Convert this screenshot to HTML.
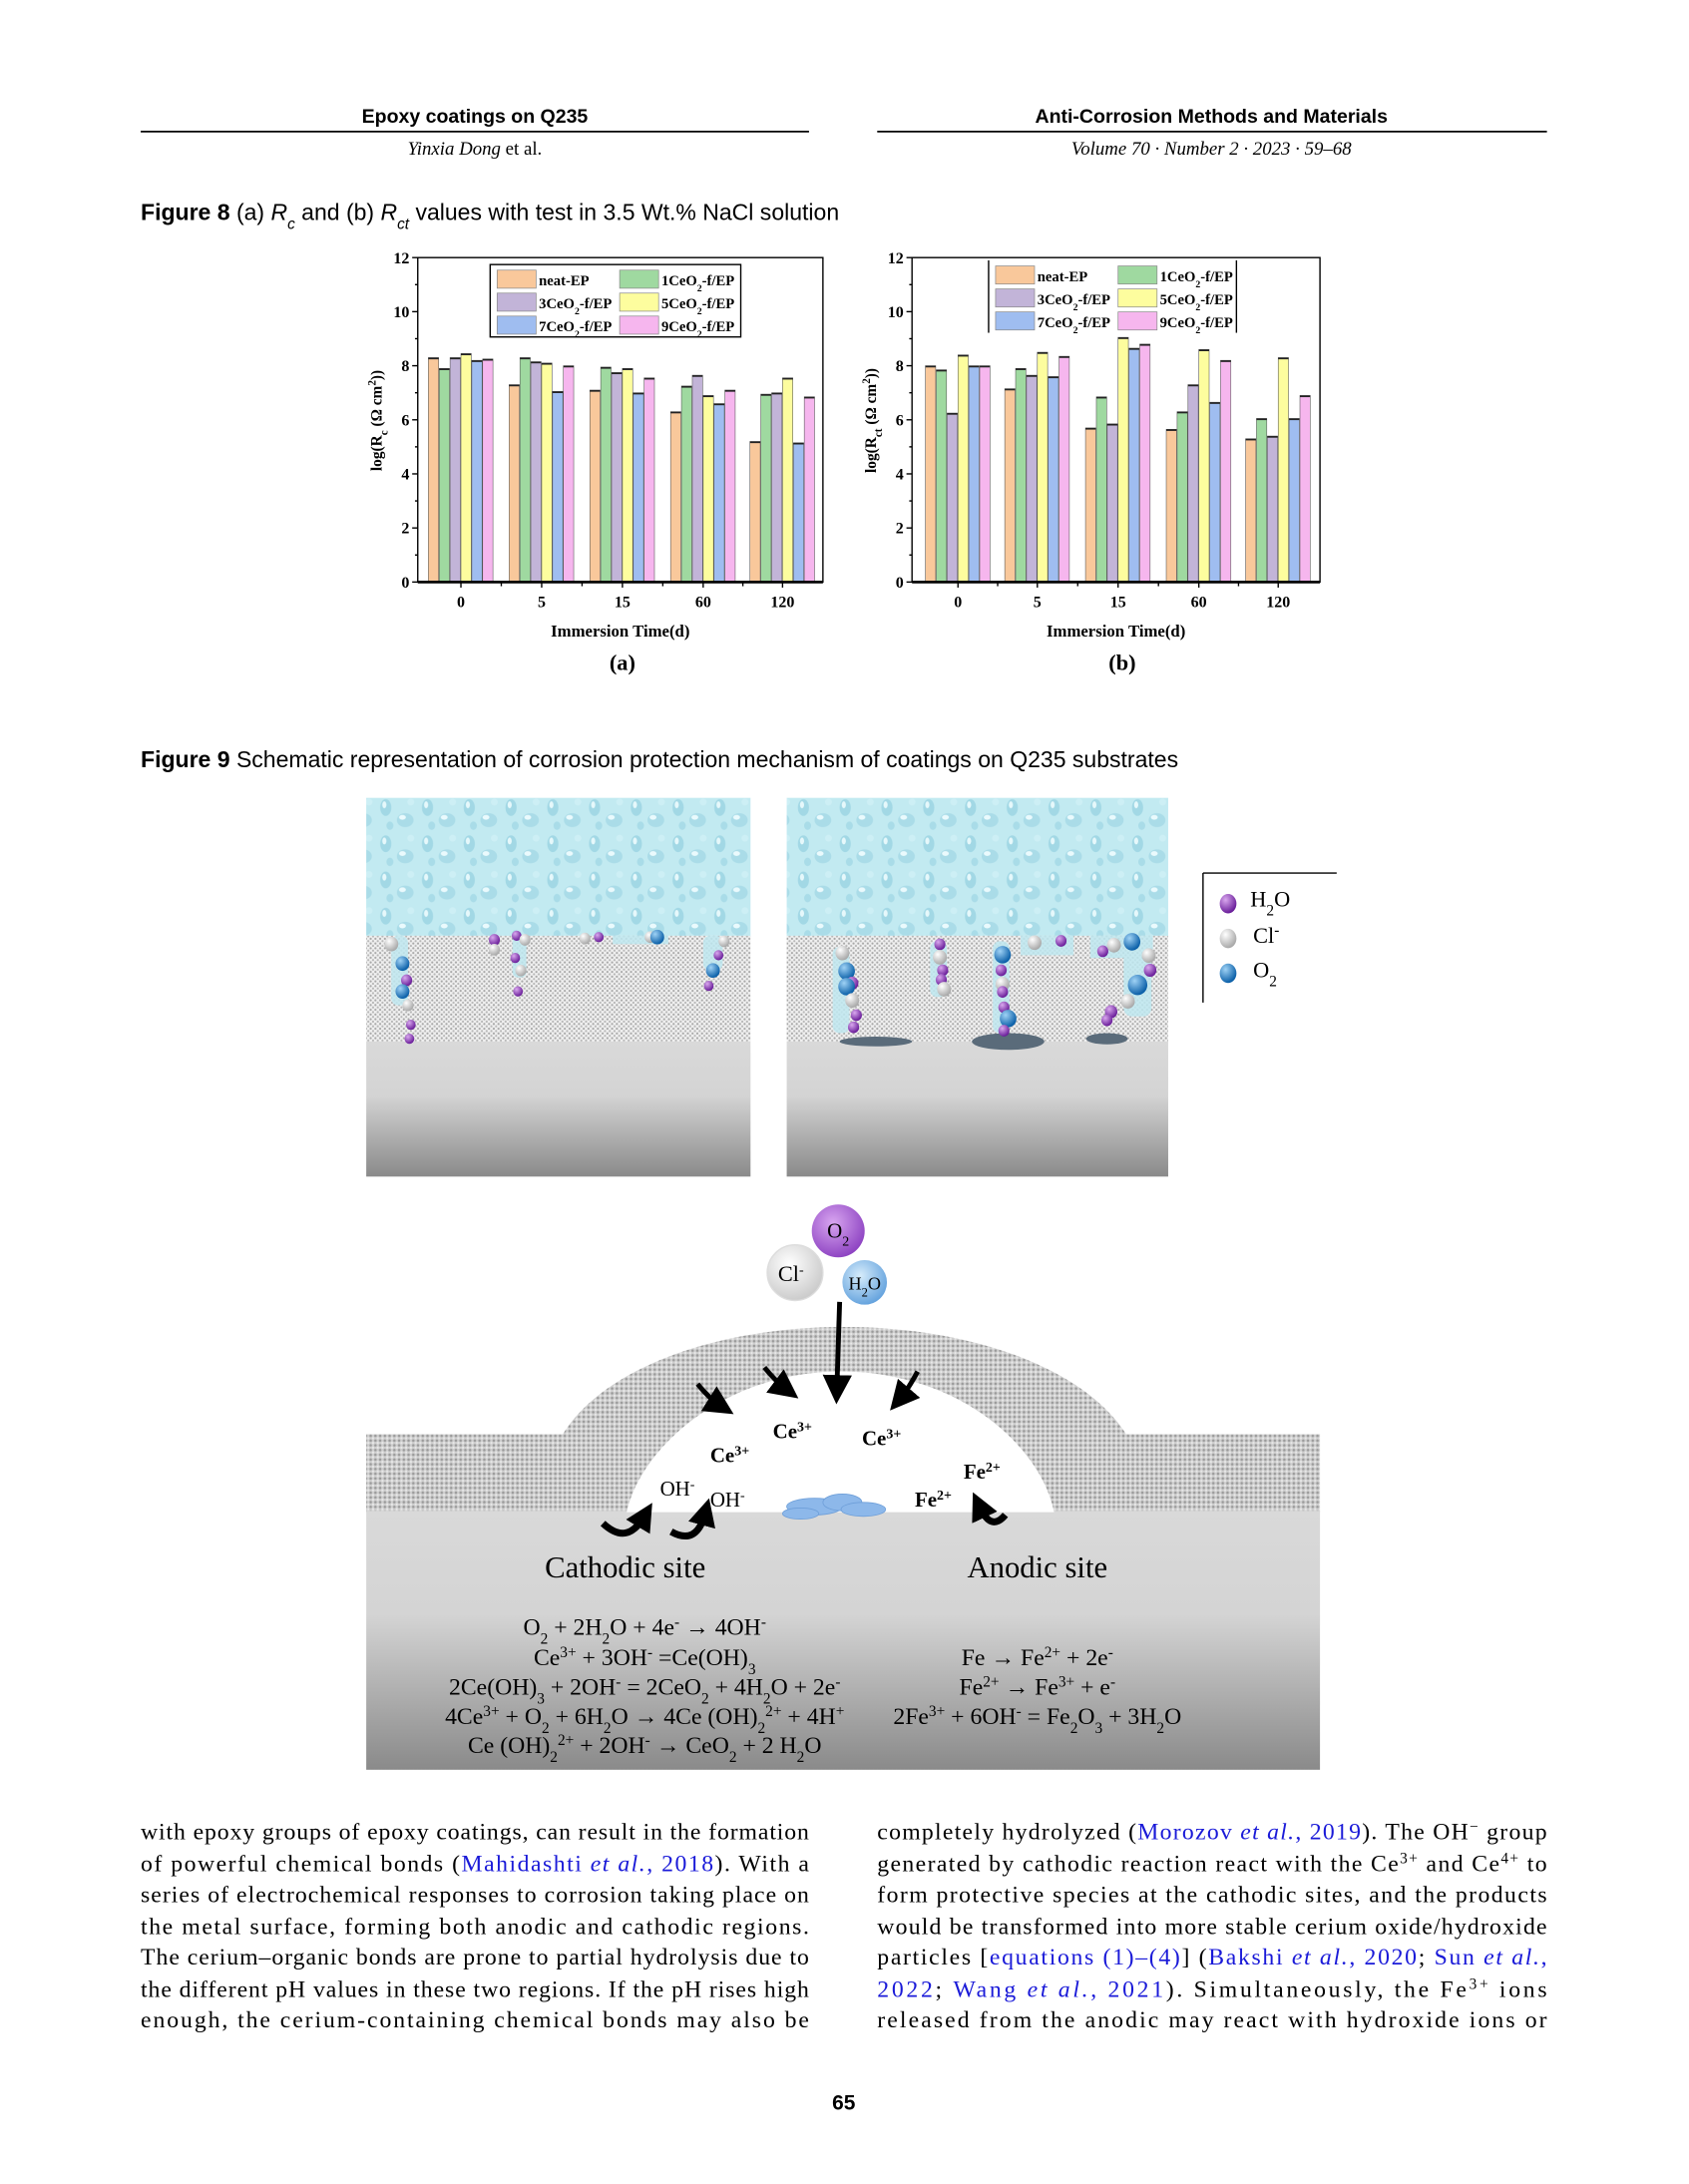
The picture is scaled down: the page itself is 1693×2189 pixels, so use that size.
<!DOCTYPE html>
<html><head><meta charset="utf-8"><style>
html,body{margin:0;padding:0;background:#fff}
svg{display:block}
.s{font-family:"Liberation Sans Narrow","Liberation Sans",sans-serif}
.r{font-family:"Liberation Serif",serif}
.l{fill:#1a1ad8}
</style></head><body>
<svg id="sv" xmlns="http://www.w3.org/2000/svg" width="1693" height="2189" viewBox="0 0 1213 1568.5">
<defs>
<pattern id="dots" width="3.4" height="3.4" patternUnits="userSpaceOnUse">
<rect width="3.4" height="3.4" fill="#f0f0f0"/><circle cx="1" cy="1" r="0.8" fill="#a8a8a8"/><circle cx="2.7" cy="2.7" r="0.8" fill="#b8b8b8"/>
</pattern>
<pattern id="dots2" width="3.4" height="3.4" patternUnits="userSpaceOnUse">
<rect width="3.4" height="3.4" fill="#cfcfcf"/><circle cx="1" cy="1" r="0.9" fill="#9a9a9a"/><circle cx="2.7" cy="2.7" r="0.8" fill="#e8e8e8"/>
</pattern>
<pattern id="water" width="30" height="26" patternUnits="userSpaceOnUse">
<rect width="30" height="26" fill="#c2eaf1"/>
<ellipse cx="7" cy="8" rx="4" ry="6" fill="#a2d8e5"/><ellipse cx="6" cy="6" rx="1.5" ry="2.5" fill="#e6f8fb"/>
<ellipse cx="21" cy="17" rx="6" ry="5" fill="#aadce8"/><ellipse cx="19" cy="15" rx="2.5" ry="1.7" fill="#eafafd"/>
<ellipse cx="25" cy="4" rx="2.5" ry="2.5" fill="#cdeff5"/><ellipse cx="10" cy="21" rx="2.5" ry="3" fill="#a9dce8"/>
</pattern>
<linearGradient id="metal" x1="0" y1="0" x2="0" y2="1">
<stop offset="0" stop-color="#d9d9d9"/><stop offset="0.4" stop-color="#d4d4d4"/><stop offset="1" stop-color="#8a8a8a"/>
</linearGradient>
<radialGradient id="gp" cx="0.35" cy="0.3" r="0.7"><stop offset="0" stop-color="#d9a8ee"/><stop offset="1" stop-color="#6a1e9a"/></radialGradient>
<radialGradient id="gw" cx="0.35" cy="0.3" r="0.7"><stop offset="0" stop-color="#ffffff"/><stop offset="1" stop-color="#a9a9a9"/></radialGradient>
<radialGradient id="gb" cx="0.35" cy="0.3" r="0.7"><stop offset="0" stop-color="#9fd2f5"/><stop offset="1" stop-color="#0a5fa8"/></radialGradient>
<radialGradient id="gbl" cx="0.4" cy="0.35" r="0.7"><stop offset="0" stop-color="#d6ecfb"/><stop offset="1" stop-color="#5f9fdc"/></radialGradient>
<radialGradient id="gpl" cx="0.4" cy="0.35" r="0.7"><stop offset="0" stop-color="#d8a5f0"/><stop offset="1" stop-color="#8a3fc0"/></radialGradient>
<radialGradient id="gwl" cx="0.4" cy="0.35" r="0.7"><stop offset="0" stop-color="#ffffff"/><stop offset="1" stop-color="#c8c8c8"/></radialGradient>
<marker id="ah" markerWidth="6" markerHeight="6" refX="3" refY="3" orient="auto"><path d="M0,0 L6,3 L0,6 z" fill="#000"/></marker>
<marker id="ah2" markerWidth="4" markerHeight="4" refX="1.5" refY="2" orient="auto"><path d="M0,0 L4,2 L0,4 z" fill="#000"/></marker>
</defs>

<text class="s" x="341" y="88" font-size="14" font-weight="bold" text-anchor="middle">Epoxy coatings on Q235</text>
<line x1="101" y1="94.5" x2="581" y2="94.5" stroke="#000" stroke-width="1.3"/>
<text class="r" x="341" y="111" font-size="13.5" text-anchor="middle"><tspan font-style="italic">Yinxia Dong</tspan> et al.</text>
<text class="s" x="870" y="88" font-size="14" font-weight="bold" text-anchor="middle">Anti-Corrosion Methods and Materials</text>
<line x1="630" y1="94.5" x2="1111" y2="94.5" stroke="#000" stroke-width="1.3"/>
<text class="r" x="870" y="111" font-size="13.5" font-style="italic" text-anchor="middle">Volume 70 · Number 2 · 2023 · 59–68</text>

<text class="s" x="101" y="158" font-size="16.5"><tspan font-weight="bold">Figure 8</tspan>  (a) <tspan font-style="italic">R</tspan><tspan font-style="italic" font-size="11" baseline-shift="sub">c</tspan> and (b) <tspan font-style="italic">R</tspan><tspan font-style="italic" font-size="11" baseline-shift="sub">ct</tspan> values with test in 3.5 Wt.% NaCl solution</text>

<g id="charts"></g>

<text class="s" x="101" y="551" font-size="16.5"><tspan font-weight="bold">Figure 9</tspan>  Schematic representation of corrosion protection mechanism of coatings on Q235 substrates</text>

<rect x="263" y="573" width="276" height="100" fill="url(#water)"/>
<rect x="263" y="672" width="276" height="76" fill="url(#dots)"/>
<rect x="263" y="748" width="276" height="97" fill="url(#metal)"/>
<rect x="565" y="573" width="274" height="100" fill="url(#water)"/>
<rect x="565" y="672" width="274" height="76" fill="url(#dots)"/>
<rect x="565" y="748" width="274" height="97" fill="url(#metal)"/>
<g fill="#bfe8f0" opacity="0.85">
<rect x="598" y="680" width="12" height="62" rx="5"/><rect x="668" y="676" width="12" height="40" rx="5"/>
<rect x="713" y="676" width="12" height="66" rx="5"/><rect x="733" y="672" width="38" height="14"/>
<rect x="783" y="672" width="45" height="16"/><rect x="807" y="680" width="20" height="50" rx="6"/>
<rect x="281" y="672" width="12" height="50" rx="5"/><rect x="368" y="672" width="10" height="30" rx="4"/>
<rect x="440" y="672" width="40" height="6"/><rect x="505" y="672" width="14" height="25" rx="5"/>
</g>
<g fill="#5a6b7a">
<ellipse cx="629" cy="748" rx="26" ry="3.5"/><ellipse cx="724" cy="748" rx="26" ry="6"/><ellipse cx="795" cy="746" rx="15" ry="4"/>
</g>
<g id="mols"></g>
<line x1="864" y1="627" x2="960" y2="627" stroke="#000" stroke-width="1"/>
<line x1="864" y1="627" x2="864" y2="720" stroke="#000" stroke-width="1"/>
<ellipse cx="882" cy="649" rx="6" ry="7" fill="url(#gp)"/>
<ellipse cx="882" cy="674" rx="6" ry="7" fill="url(#gw)"/>
<ellipse cx="882" cy="699" rx="6" ry="7" fill="url(#gb)"/>
<text class="r" x="898" y="651" font-size="16">H<tspan font-size="11" baseline-shift="sub">2</tspan>O</text>
<text class="r" x="900" y="677" font-size="16">Cl<tspan font-size="11" baseline-shift="super">-</tspan></text>
<text class="r" x="900" y="702" font-size="16">O<tspan font-size="11" baseline-shift="sub">2</tspan></text>

<rect x="263" y="1030" width="685" height="56" fill="url(#dots2)"/>
<path d="M403,1032 C430,985 510,953 606,953 C702,953 782,985 810,1032 Z" fill="url(#dots2)"/>
<rect x="263" y="1085" width="685" height="186" fill="url(#metal)"/>
<path d="M450,1086 C460,1040 520,985 604,985 C690,985 748,1040 757,1086 Z" fill="#fff"/>
<g fill="#8db8ea" stroke="#6e9fd9" stroke-width="0.6">
<ellipse cx="585" cy="1082" rx="20" ry="6"/><ellipse cx="605" cy="1079" rx="14" ry="6"/><ellipse cx="620" cy="1084" rx="16" ry="5"/><ellipse cx="575" cy="1087" rx="13" ry="4"/>
</g>
<circle cx="602" cy="884" r="19" fill="url(#gpl)"/>
<text class="r" x="602" y="889" font-size="15" text-anchor="middle">O<tspan font-size="10" baseline-shift="sub">2</tspan></text>
<circle cx="571" cy="914" r="20" fill="url(#gwl)" stroke="#ddd"/>
<text class="r" x="568" y="920" font-size="16" text-anchor="middle">Cl<tspan font-size="10" baseline-shift="super">-</tspan></text>
<circle cx="621" cy="921" r="16" fill="url(#gbl)"/>
<text class="r" x="621" y="926" font-size="13" text-anchor="middle">H<tspan font-size="9" baseline-shift="sub">2</tspan>O</text>
<g stroke="#000" stroke-width="3.5" fill="none" marker-end="url(#ah)">
<path d="M603,935 L601,998"/>
<path d="M501,994 Q510,1005 518,1010"/>
<path d="M549,982 Q557,992 565,998"/>
<path d="M659,985 Q652,998 646,1005"/>
</g>
<g stroke="#000" stroke-width="5" fill="none" marker-end="url(#ah2)">
<path d="M433,1094 Q450,1110 462,1090"/>
<path d="M482,1100 Q500,1110 506,1088"/>
<path d="M722,1088 Q712,1100 704,1083"/>
</g>
<g class="r" font-size="15" font-weight="bold">
<text x="555" y="1033">Ce<tspan font-size="10" baseline-shift="super">3+</tspan></text>
<text x="510" y="1050">Ce<tspan font-size="10" baseline-shift="super">3+</tspan></text>
<text x="619" y="1038">Ce<tspan font-size="10" baseline-shift="super">3+</tspan></text>
<text x="692" y="1062">Fe<tspan font-size="10" baseline-shift="super">2+</tspan></text>
<text x="657" y="1082">Fe<tspan font-size="10" baseline-shift="super">2+</tspan></text>
</g>
<text class="r" x="474" y="1074" font-size="15">OH<tspan font-size="10" baseline-shift="super">-</tspan></text>
<text class="r" x="510" y="1082" font-size="15">OH<tspan font-size="10" baseline-shift="super">-</tspan></text>
<text class="r" x="449" y="1133" font-size="22" text-anchor="middle">Cathodic site</text>
<text class="r" x="745" y="1133" font-size="22" text-anchor="middle">Anodic site</text>
<g class="r" font-size="17" text-anchor="middle">
<text x="463" y="1174">O<tspan font-size="11" baseline-shift="sub">2</tspan> + 2H<tspan font-size="11" baseline-shift="sub">2</tspan>O + 4e<tspan font-size="11" baseline-shift="super">-</tspan> → 4OH<tspan font-size="11" baseline-shift="super">-</tspan></text>
<text x="463" y="1196">Ce<tspan font-size="11" baseline-shift="super">3+</tspan> + 3OH<tspan font-size="11" baseline-shift="super">-</tspan> =Ce(OH)<tspan font-size="11" baseline-shift="sub">3</tspan></text>
<text x="463" y="1217">2Ce(OH)<tspan font-size="11" baseline-shift="sub">3</tspan> + 2OH<tspan font-size="11" baseline-shift="super">-</tspan> = 2CeO<tspan font-size="11" baseline-shift="sub">2</tspan> + 4H<tspan font-size="11" baseline-shift="sub">2</tspan>O + 2e<tspan font-size="11" baseline-shift="super">-</tspan></text>
<text x="463" y="1238">4Ce<tspan font-size="11" baseline-shift="super">3+</tspan> + O<tspan font-size="11" baseline-shift="sub">2</tspan> + 6H<tspan font-size="11" baseline-shift="sub">2</tspan>O → 4Ce (OH)<tspan font-size="11" baseline-shift="sub">2</tspan><tspan font-size="11" baseline-shift="super">2+</tspan> + 4H<tspan font-size="11" baseline-shift="super">+</tspan></text>
<text x="463" y="1259">Ce (OH)<tspan font-size="11" baseline-shift="sub">2</tspan><tspan font-size="11" baseline-shift="super">2+</tspan> + 2OH<tspan font-size="11" baseline-shift="super">-</tspan> → CeO<tspan font-size="11" baseline-shift="sub">2</tspan> + 2 H<tspan font-size="11" baseline-shift="sub">2</tspan>O</text>
<text x="745" y="1196">Fe → Fe<tspan font-size="11" baseline-shift="super">2+</tspan> + 2e<tspan font-size="11" baseline-shift="super">-</tspan></text>
<text x="745" y="1217">Fe<tspan font-size="11" baseline-shift="super">2+</tspan> → Fe<tspan font-size="11" baseline-shift="super">3+</tspan> + e<tspan font-size="11" baseline-shift="super">-</tspan></text>
<text x="745" y="1238">2Fe<tspan font-size="11" baseline-shift="super">3+</tspan> + 6OH<tspan font-size="11" baseline-shift="super">-</tspan> = Fe<tspan font-size="11" baseline-shift="sub">2</tspan>O<tspan font-size="11" baseline-shift="sub">3</tspan> + 3H<tspan font-size="11" baseline-shift="sub">2</tspan>O</text>
</g>

<g class="r" font-size="17">
<text x="101" y="1321" textLength="480" lengthAdjust="spacing">with epoxy groups of epoxy coatings, can result in the formation</text>
<text x="101" y="1344" textLength="480" lengthAdjust="spacing">of powerful chemical bonds (<tspan class="l">Mahidashti <tspan font-style="italic">et al.</tspan>, 2018</tspan>). With a</text>
<text x="101" y="1366" textLength="480" lengthAdjust="spacing">series of electrochemical responses to corrosion taking place on</text>
<text x="101" y="1389" textLength="480" lengthAdjust="spacing">the metal surface, forming both anodic and cathodic regions.</text>
<text x="101" y="1411" textLength="480" lengthAdjust="spacing">The cerium–organic bonds are prone to partial hydrolysis due to</text>
<text x="101" y="1434" textLength="480" lengthAdjust="spacing">the different pH values in these two regions. If the pH rises high</text>
<text x="101" y="1456" textLength="480" lengthAdjust="spacing">enough, the cerium-containing chemical bonds may also be</text>
<text x="630" y="1321" textLength="481" lengthAdjust="spacing">completely hydrolyzed (<tspan class="l">Morozov <tspan font-style="italic">et al.</tspan>, 2019</tspan>). The OH<tspan font-size="11" baseline-shift="super">−</tspan> group</text>
<text x="630" y="1344" textLength="481" lengthAdjust="spacing">generated by cathodic reaction react with the Ce<tspan font-size="11" baseline-shift="super">3+</tspan> and Ce<tspan font-size="11" baseline-shift="super">4+</tspan> to</text>
<text x="630" y="1366" textLength="481" lengthAdjust="spacing">form protective species at the cathodic sites, and the products</text>
<text x="630" y="1389" textLength="481" lengthAdjust="spacing">would be transformed into more stable cerium oxide/hydroxide</text>
<text x="630" y="1411" textLength="481" lengthAdjust="spacing">particles [<tspan class="l">equations (1)–(4)</tspan>] (<tspan class="l">Bakshi <tspan font-style="italic">et al.</tspan>, 2020</tspan>; <tspan class="l">Sun <tspan font-style="italic">et al.</tspan>,</tspan></text>
<text x="630" y="1434" textLength="481" lengthAdjust="spacing"><tspan class="l">2022</tspan>; <tspan class="l">Wang <tspan font-style="italic">et al.</tspan>, 2021</tspan>). Simultaneously, the Fe<tspan font-size="11" baseline-shift="super">3+</tspan> ions</text>
<text x="630" y="1456" textLength="481" lengthAdjust="spacing">released from the anodic may react with hydroxide ions or</text>
</g>
<text class="s" x="606" y="1515" font-size="15" font-weight="bold" text-anchor="middle">65</text>
</svg>
<script>
(function(){
var NS="http://www.w3.org/2000/svg";
function el(t,a,p,txt){var e=document.createElementNS(NS,t);for(var k in a)e.setAttribute(k,a[k]);if(txt!=null)e.textContent=txt;p.appendChild(e);return e;}
var g=document.getElementById("charts");
var cols=["#f9c89b","#9fd9a0","#c2b4d8","#fdfd9e","#9fbdf0","#f6b6ee"];
var labs=["0","5","15","60","120"];
var A=[[8.3,7.9,8.3,8.45,8.2,8.25],[7.3,8.3,8.15,8.1,7.05,8.0],[7.1,7.95,7.75,7.9,7.0,7.55],[6.3,7.25,7.65,6.9,6.6,7.1],[5.2,6.95,7.0,7.55,5.15,6.85]];
var B=[[8.0,7.85,6.25,8.4,8.0,8.0],[7.15,7.9,7.65,8.5,7.6,8.35],[5.7,6.85,5.85,9.05,8.65,8.8],[5.65,6.3,7.3,8.6,6.65,8.2],[5.3,6.05,5.4,8.3,6.05,6.9]];
var F="Liberation Serif,serif";
function chart(x0,x1,gx,data,sub,leg,capx,cap){
 var y0=418,y1=185,k=(y0-y1)/12;
 for(var i=0;i<5;i++)for(var j=0;j<6;j++){var v=data[i][j];
  el("rect",{x:gx[i]-23.4+j*7.8,y:y0-v*k,width:7.4,height:v*k,fill:cols[j],stroke:"#555","stroke-width":0.4},g);
  el("rect",{x:gx[i]-23.4+j*7.8,y:y0-v*k,width:7.4,height:1.2,fill:"#222"},g);}
 el("rect",{x:x0,y:y1,width:x1-x0,height:y0-y1,fill:"none",stroke:"#000","stroke-width":1},g);
 el("line",{x1:x0,y1:y0,x2:x1,y2:y0,stroke:"#000","stroke-width":2},g);
 for(var t=0;t<=12;t+=2){var yy=y0-t*k;el("line",{x1:x0-4,y1:yy,x2:x0,y2:yy,stroke:"#000"},g);
  el("text",{x:x0-6,y:yy+4,"font-size":11.5,"font-weight":"bold","text-anchor":"end","font-family":F},g,String(t));
  if(t<12){el("line",{x1:x0-2,y1:yy-k,x2:x0,y2:yy-k,stroke:"#000"},g);}}
 for(var i=0;i<5;i++){el("line",{x1:gx[i],y1:y0,x2:gx[i],y2:y0+4,stroke:"#000"},g);
  el("text",{x:gx[i],y:436,"font-size":11.5,"font-weight":"bold","text-anchor":"middle","font-family":F},g,labs[i]);
  if(i<4)el("line",{x1:(gx[i]+gx[i+1])/2,y1:y0,x2:(gx[i]+gx[i+1])/2,y2:y0+3,stroke:"#000"},g);}
 el("text",{x:(x0+x1)/2,y:457,"font-size":12,"font-weight":"bold","text-anchor":"middle","font-family":F},g,"Immersion Time(d)");
 el("text",{x:capx,y:481,"font-size":16,"font-weight":"bold","text-anchor":"middle","font-family":F},g,cap);
 var yl=el("text",{x:0,y:0,"font-size":11,"font-weight":"bold","text-anchor":"middle","font-family":F,transform:"translate("+(x0-26)+",302) rotate(-90)"},g,"log(R");
 el("tspan",{"font-size":8,"baseline-shift":"sub"},yl,sub);
 el("tspan",{},yl," (Ω cm");el("tspan",{"font-size":8,"baseline-shift":"super"},yl,"2");el("tspan",{},yl,"))");
 var lx=leg[0],ly=leg[1];
 if(leg[2])el("rect",{x:lx,y:ly,width:180,height:52,fill:"#fff",stroke:"#000"},g);
 else{el("line",{x1:lx,y1:ly,x2:lx,y2:ly+52,stroke:"#000"},g);el("line",{x1:lx+178,y1:ly,x2:lx+178,y2:ly+52,stroke:"#000"},g);}
 var names=["neat-EP","1CeO","3CeO","5CeO","7CeO","9CeO"];
 for(var j=0;j<6;j++){var c=j%2,r=Math.floor(j/2);var bx=lx+5+c*88,by=ly+4+r*16.5;
  el("rect",{x:bx,y:by,width:28,height:13,fill:cols[j],stroke:"#888","stroke-width":0.5},g);
  var t=el("text",{x:bx+30,y:by+11,"font-size":10.5,"font-weight":"bold","font-family":F},g,names[j]);
  if(j>0){el("tspan",{"font-size":7,"baseline-shift":"sub"},t,"2");el("tspan",{},t,"-f/EP");}}
}
chart(300,591,[331,389,447,505,562],A,"c",[352,190,true],447,"(a)");
chart(655,948,[688,745,803,861,918],B,"ct",[710,187,false],806,"(b)");
var m=document.getElementById("mols");
var P="url(#gp)",W="url(#gw)",Bl="url(#gb)";
var list=[[281,678,W,5],[289,692,Bl,5],[292,704,P,4],[289,712,Bl,5],[293,722,W,4],[295,736,P,3.5],[294,746,P,3.5],
[355,675,P,4],[355,682,W,4],[371,672,P,3.5],[370,688,P,3.5],[374,697,W,4],[377,675,W,4],[372,712,P,3.5],
[420,674,W,4],[430,673,P,3.5],[467,673,W,4],[472,673,Bl,5],[520,676,W,4],[516,686,P,3.5],[512,697,Bl,5],[509,708,P,3.5],
[605,692,W,5],[608,713,Bl,6],[612,727,P,4.5],[608,731,Bl,6],[612,747,W,5],[615,764,P,4],[613,778,P,4],
[675,682,P,4],[675,697,W,5],[677,712,P,4],[676,723,P,4],[678,734,W,5],
[720,694,Bl,6],[719,712,P,4],[720,728,W,5],[720,737,P,4],[721,755,P,4],[724,768,Bl,6],[721,782,P,4],
[743,680,W,5],[762,678,P,4],[792,690,P,4],[800,683,W,5],[813,679,Bl,6],[825,695,W,5],[826,712,P,4.5],[817,729,Bl,7],[810,748,W,5],[798,760,P,4.5],[795,770,P,4]];
for(var i=0;i<list.length;i++){var q=list[i];var yy=q[1];if(q[0]>560)yy=672+(q[1]-672)*0.62;
 el("ellipse",{cx:q[0],cy:yy,rx:q[3],ry:q[3]*1.05,fill:q[2]},m);}
})();
</script>
</body></html>
